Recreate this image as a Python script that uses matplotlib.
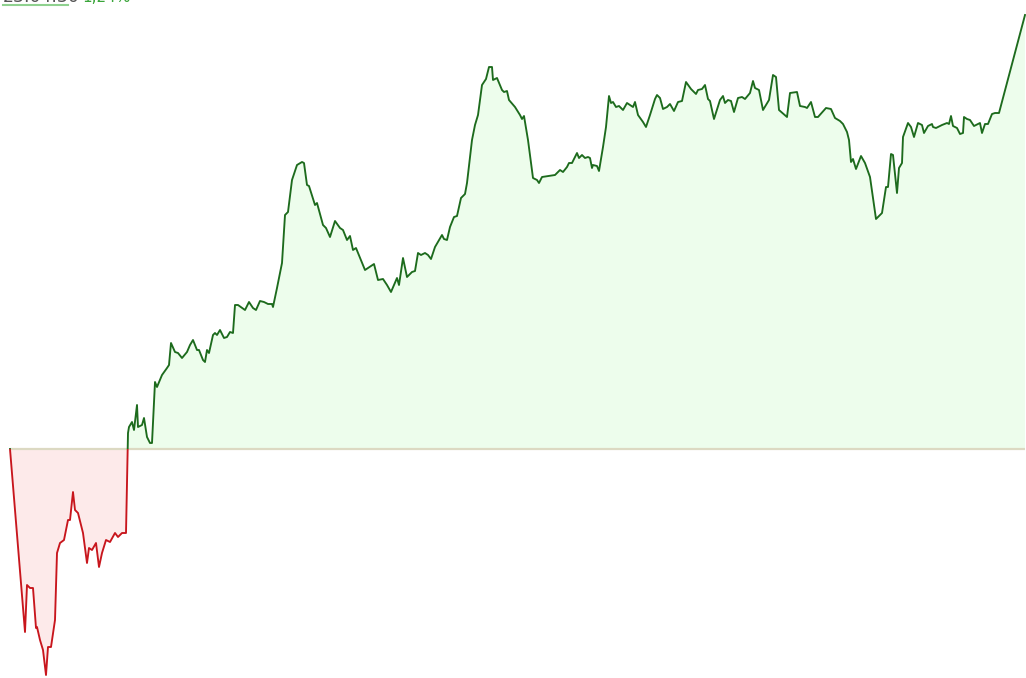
"""Cumulative return curve with green/red areas around zero."""

import matplotlib

matplotlib.use("Agg")
import matplotlib.pyplot as plt
import numpy as np
from matplotlib.patches import Rectangle


# day index and cumulative return in %
DAYS = [
    10, 25, 27, 30, 33, 36, 37, 40, 43, 46, 48, 51, 55, 57, 60, 64, 68, 70, 73, 75,
    78, 83, 87, 89, 92, 96, 99, 102, 106, 110, 115, 118, 122, 126, 128, 129, 132, 134, 137, 138,
    142, 144, 147, 150, 152, 155, 157, 162, 167, 169, 171, 175, 178, 182, 187, 190, 193, 197, 199, 203,
    205, 207, 209, 213, 215, 217, 220, 224, 227, 230, 233, 235, 238, 245, 249, 253, 256, 260, 264, 268,
    272, 273, 277, 282, 285, 288, 292, 297, 302, 304, 307, 309, 315, 317, 323, 326, 330, 335, 340, 343,
    347, 350, 353, 356, 365, 374, 378, 383, 387, 391, 397, 399, 403, 407, 412, 415, 418, 421, 425, 428,
    431, 435, 442, 444, 447, 450, 454, 457, 461, 465, 467, 472, 475, 478, 482, 486, 489, 492, 493, 497,
    502, 504, 507, 509, 515, 520, 522, 524, 528, 533, 537, 539, 542, 555, 558, 560, 563, 567, 569, 572,
    577, 579, 582, 585, 588, 590, 592, 593, 597, 599, 603, 606, 609, 611, 613, 616, 619, 623, 627, 630,
    633, 635, 638, 643, 646, 650, 655, 657, 660, 663, 667, 670, 674, 678, 682, 686, 691, 696, 698, 702,
    705, 708, 710, 714, 720, 723, 725, 728, 731, 734, 738, 742, 745, 750, 753, 755, 759, 763, 769, 773,
    776, 779, 787, 790, 797, 800, 805, 807, 811, 815, 818, 826, 831, 835, 840, 843, 847, 849, 851, 853,
    856, 861, 865, 870, 876, 880, 882, 886, 888, 891, 893, 897, 899, 902, 903, 907, 908, 911, 914, 918,
    922, 924, 928, 932, 933, 936, 942, 947, 949, 951, 953, 957, 960, 963, 964, 967, 970, 974, 978, 980,
    982, 985, 988, 992, 995, 999, 1025,
]
RETURNS = [
    0.0, -18.3, -13.6, -13.9, -13.9, -17.9, -17.8, -19.1, -20.1, -22.6, -19.8, -19.8, -17.1, -10.4, -9.4, -9.1, -7.1, -7.1, -4.3, -6.1,
    -6.4, -8.4, -11.4, -9.9, -10.1, -9.4, -11.8, -10.4, -9.1, -9.3, -8.4, -8.8, -8.4, -8.4, 1.6, 2.2, 2.7, 1.9, 4.4, 2.2,
    2.4, 3.1, 1.2, 0.6, 0.6, 6.7, 6.2, 7.4, 8.1, 8.4, 10.6, 9.7, 9.6, 9.1, 9.7, 10.4, 10.9, 9.9, 9.9, 8.9,
    8.7, 9.9, 9.6, 11.4, 11.6, 11.4, 11.9, 11.1, 11.2, 11.7, 11.6, 14.4, 14.4, 13.9, 14.7, 14.1, 13.9, 14.8, 14.7, 14.5,
    14.5, 14.2, 16.1, 18.6, 23.4, 23.7, 26.9, 28.4, 28.7, 28.6, 26.4, 26.3, 24.4, 24.6, 22.4, 22.1, 21.2, 22.8, 22.1, 21.9,
    20.9, 21.3, 19.9, 20.1, 17.9, 18.5, 16.9, 17.0, 16.4, 15.7, 17.1, 16.4, 19.1, 17.2, 17.7, 17.8, 19.6, 19.4, 19.6, 19.4,
    19.0, 20.2, 21.4, 21.0, 20.9, 22.2, 23.2, 23.3, 25.1, 25.5, 26.6, 30.9, 32.4, 33.4, 36.4, 37.0, 38.2, 38.2, 36.9, 37.1,
    35.9, 35.7, 35.8, 34.9, 34.2, 33.4, 33.0, 33.3, 30.9, 27.1, 26.9, 26.6, 27.2, 27.4, 27.7, 27.9, 27.7, 28.2, 28.6, 28.6,
    29.6, 29.1, 29.4, 29.1, 29.2, 29.1, 28.1, 28.4, 28.3, 27.8, 30.2, 32.2, 35.3, 34.6, 34.7, 34.2, 34.3, 33.9, 34.6, 34.4,
    34.2, 34.7, 33.4, 32.7, 32.2, 33.4, 35.0, 35.4, 35.1, 34.0, 34.2, 34.5, 33.8, 34.7, 34.8, 36.7, 36.0, 35.5, 35.9, 36.0,
    36.4, 35.0, 34.8, 33.0, 34.9, 35.3, 34.6, 34.9, 34.8, 33.7, 35.1, 35.2, 35.0, 35.6, 36.8, 36.1, 35.9, 33.9, 34.9, 37.4,
    37.2, 33.9, 33.2, 35.6, 35.7, 34.3, 34.2, 34.1, 34.7, 33.2, 33.2, 34.1, 34.0, 33.1, 32.8, 32.5, 31.7, 30.9, 28.7, 29.0,
    28.0, 29.3, 28.6, 27.2, 23.0, 23.4, 23.6, 26.2, 26.2, 29.5, 29.4, 25.6, 28.1, 28.6, 31.2, 32.3, 32.6, 32.2, 31.2, 32.6,
    32.4, 31.6, 32.3, 32.5, 32.2, 32.1, 32.4, 32.6, 32.5, 33.3, 32.3, 32.1, 31.5, 31.6, 33.2, 33.0, 32.9, 32.3, 32.5, 32.6,
    31.6, 32.5, 32.5, 33.5, 33.6, 33.6, 43.4,
]

HEADER_DATE = "23.04.30"
HEADER_CHANGE = "1,24%"

GREEN_LINE = "#1d6b1d"
GREEN_FILL = "#edfdec"
RED_LINE = "#c8161d"
RED_FILL = "#fdeaea"
ZERO_LINE = "#dcd9c2"


def main() -> None:
    x = np.array(DAYS, dtype=float)
    y = np.array(RETURNS, dtype=float)

    fig = plt.figure(figsize=(10.26, 6.78), dpi=100)
    ax = fig.add_axes([0, 0, 1, 1])
    ax.set_xlim(0, 1026)
    ax.set_ylim(-22.9, 44.9)
    ax.axis("off")

    ax.fill_between(x, y, 0, where=y >= 0, interpolate=True, color=GREEN_FILL, linewidth=0)
    ax.fill_between(x, y, 0, where=y <= 0, interpolate=True, color=RED_FILL, linewidth=0)
    ax.hlines(0, x[0], x[-1], color=ZERO_LINE, linewidth=1.6, zorder=2)

    # one line, clipped twice: green above zero, red below
    for color, rect in (
        (GREEN_LINE, Rectangle((0, 0), 1100, 100, transform=ax.transData)),
        (RED_LINE, Rectangle((0, -100), 1100, 100, transform=ax.transData)),
    ):
        (line,) = ax.plot(x, y, color=color, linewidth=1.35, zorder=3)
        line.set_clip_path(rect)

    # header text, mostly cut off by the top edge as in the source view
    fig.text(3 / 1026, 1 - 1.5 / 678, HEADER_DATE, color="#555555", fontsize=12.5, va="baseline")
    fig.add_artist(plt.Line2D([3 / 1026, 68 / 1026], [1 - 4.5 / 678] * 2, color="#8fd18f", linewidth=1.5))
    fig.text(82 / 1026, 1 - 1.5 / 678, HEADER_CHANGE, color="#3aa53a", fontsize=11, va="baseline")

    fig.savefig("out.png", dpi=100)
    plt.close(fig)


if __name__ == "__main__":
    main()
